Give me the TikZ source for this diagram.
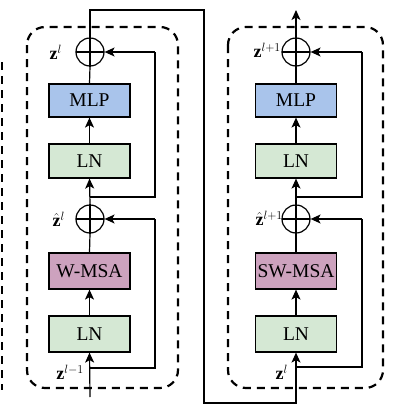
\documentclass[tikz,border=0pt]{standalone}
\usepackage{fontspec}
\setmainfont{Liberation Serif}
\usetikzlibrary{arrows.meta}
\definecolor{mlpblue}{HTML}{A9C4EB}
\definecolor{lngreen}{HTML}{D5E8D4}
\definecolor{msapurple}{HTML}{CDA2BE}
\begin{document}
\begin{tikzpicture}[x=1pt,y=-1pt,
  blk/.style={draw=black, line width=1.2pt, minimum width=81pt, inner sep=0pt,
    font=\fontsize{19.5}{20}\selectfont},
  mlpbox/.style={blk, fill=mlpblue, minimum height=33pt},
  lnbox/.style={blk, fill=lngreen, minimum height=34pt},
  msabox/.style={blk, fill=msapurple, minimum height=36pt},
  plusnode/.style={circle, draw=black, line width=1.2pt, minimum size=28pt, inner sep=0pt,
    path picture={\draw[line width=1.2pt] (path picture bounding box.west) -- (path picture bounding box.east);}},
  wire/.style={line width=1.2pt},
  arr/.style={wire, -{Stealth[length=10pt, width=9pt, inset=2.5pt]}},
  lbl/.style={anchor=east, inner sep=0pt, font=\fontsize{18}{19}\selectfont},
  dbox/.style={draw=black, line width=2.2pt, dash pattern=on 8pt off 6pt, rounded corners=18pt}
]
\useasboundingbox (0,0) rectangle (405,410);

% partial block at far left
\draw[line width=2.2pt, dash pattern=on 8pt off 6pt] (2,62) -- (2,390);

% ---------- left block ----------
\draw[dbox] (27,27) rectangle (178,388);
\node[plusnode] (p1) at (90,52) {};
\node[mlpbox] (mlp1) at (89.5,100.5) {MLP};
\node[lnbox] (ln1) at (89.5,161) {LN};
\node[plusnode] (p2) at (90,219) {};
\node[msabox] (msa1) at (89.5,271) {W-MSA};
\node[lnbox, minimum height=36pt] (ln2) at (89.5,334) {LN};

\coordinate (in1) at (90,397);
\coordinate (b1) at (90,368);
\coordinate (b2) at (90,197);

\draw[arr] (in1) -- (ln2.south);
\draw[wire] (b1) -- (155,368) -- (155,219);
\draw[arr] (155,219) -- (p2.east);
\draw[arr] (ln2.north) -- (msa1.south);
\draw[wire] (msa1.north) -- (p2.south);
\draw[arr] (p2.north) -- (ln1.south);
\draw[wire] (b2) -- (155,197) -- (155,52);
\draw[arr] (155,52) -- (p1.east);
\draw[arr] (ln1.north) -- (mlp1.south);
\draw[wire] (mlp1.north) -- (p1.south);
\draw[wire] (p1.south) -- (p1.north);
\draw[wire] (p2.south) -- (p2.north);

\node[lbl] (zl) at (62,52) {$\mathbf{z}^{l}$};
\node[lbl] (zhl) at (65,219) {$\hat{\mathbf{z}}^{l}$};
\node[lbl] (zlm1) at (84,372) {$\mathbf{z}^{l-1}$};

% ---------- right block ----------
\draw[dbox] (228,27) rectangle (383,388);
\node[plusnode] (p3) at (296,52) {};
\node[mlpbox] (mlp2) at (296,100.5) {MLP};
\node[lnbox] (ln3) at (296,161) {LN};
\node[plusnode] (p4) at (296,219) {};
\node[msabox] (msa2) at (296,271) {SW-MSA};
\node[lnbox, minimum height=36pt] (ln4) at (296,334) {LN};

\coordinate (b3) at (296,367);
\coordinate (b4) at (296,197);
\coordinate (out) at (296,10);

\draw[arr] (p1.north) -- (90,10) -- (204,10) -- (204,403) -- (296,403) -- (ln4.south);
\draw[wire] (b3) -- (362,367) -- (362,219);
\draw[arr] (362,219) -- (p4.east);
\draw[arr] (ln4.north) -- (msa2.south);
\draw[wire] (msa2.north) -- (p4.south);
\draw[arr] (p4.north) -- (ln3.south);
\draw[wire] (b4) -- (362,197) -- (362,52);
\draw[arr] (362,52) -- (p3.east);
\draw[arr] (ln3.north) -- (mlp2.south);
\draw[wire] (mlp2.north) -- (p3.south);
\draw[wire] (p3.south) -- (p3.north);
\draw[wire] (p4.south) -- (p4.north);
\draw[arr] (p3.north) -- (out);

\node[lbl] (zl1) at (281,50) {$\mathbf{z}^{l+1}$};
\node[lbl] (zhl1) at (283,218) {$\hat{\mathbf{z}}^{l+1}$};
\node[lbl] (zlr) at (288,372) {$\mathbf{z}^{l}$};
\end{tikzpicture}
\end{document}
